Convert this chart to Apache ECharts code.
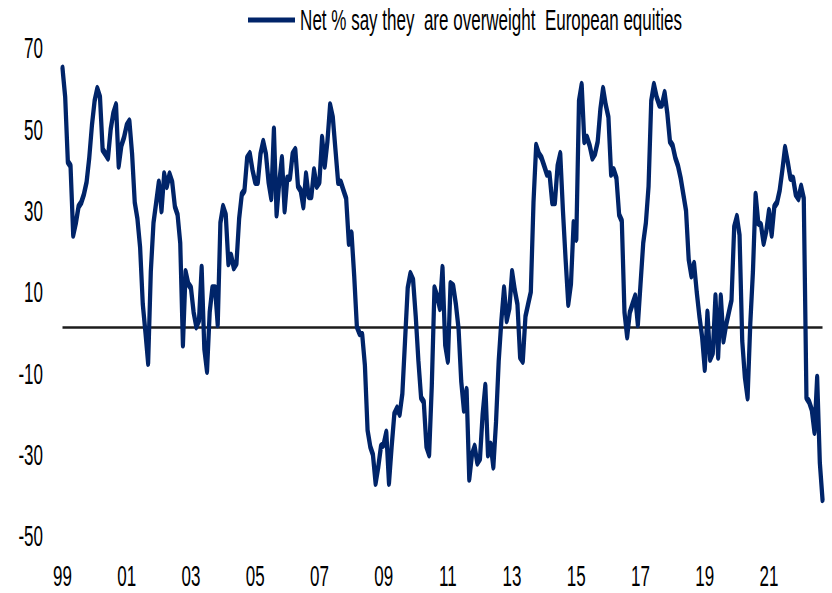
<!DOCTYPE html>
<html>
<head>
<meta charset="utf-8">
<script src="https://cdn.jsdelivr.net/npm/echarts@6/dist/echarts.min.js"></script>
<style>
html, body { margin: 0; padding: 0; overflow: hidden; background: #fff; }
#wrap { width: 832px; height: 593px; overflow: hidden; position: relative; }
#chart { width: 1467px; height: 593px; transform: scaleX(0.56715); transform-origin: 0 0; }
</style>
</head>
<body>
<div id="wrap"><div id="chart"></div></div>
<script>
// Net % of fund managers saying they are overweight European equities (monthly)
const v1999_2002 = [
  65, 58, 42, 41, 24, 27, 31, 32, 34, 37, 43, 51,
  57, 60, 58, 45, 44, 43, 50, 54, 56, 41, 46, 48,
  51, 52, 44, 32, 28, 21, 7, 0, -7.5, 15, 27, 32,
  37, 30, 39, 36, 39, 37, 31, 29, 22, -3, 15, 12
];
const v2003_2006 = [
  11, 5, 1.5, 3, 16, -4, -9.5, 5, 11, 11, 2, 27,
  31, 29, 17, 19, 16, 17, 28, 34, 35, 43, 44, 40,
  37, 37, 44, 47, 44, 37, 33, 50, 29, 37, 43, 30,
  38, 38, 44, 45, 36, 35, 31, 39, 33.5, 33.5, 40, 36
];
const v2007_2010 = [
  37, 48, 41, 47, 56, 53, 45, 37, 37, 35, 33, 22,
  24.5, 14, 1.5, -0.2, -0.5, -8, -24, -28, -30, -37, -33, -28,
  -27.5, -24.5, -37, -28, -20, -18.6, -20, -15, -2, 11, 14.5, 13,
  4, -7, -16, -17, -28, -30, -13, 11, 9, 6, 16, -3
];
const v2011_2014 = [
  -7, 12, 11.5, 7, 1, -12, -19, -14, -36, -30, -28, -32,
  -31, -20, -13, -30, -27.5, -33, -22, -7, 3, 11, 3, 6,
  15, 10.5, 7, -6, -7, 4, 7, 10, 32, 46, 44, 43,
  41, 39, 39, 32, 32, 41, 44, 30, 18, 7, 12, 27
];
const v2015_2018 = [
  23, 57, 61, 47, 48, 46, 43, 44, 47, 55, 60, 56,
  53, 39, 40, 38, 29, 27.5, 5, -1, 5, 7, 9, 2,
  12, 22, 27, 36, 57, 61, 58, 56, 56, 59, 54, 47,
  46, 43, 41, 38, 34, 30, 18, 14, 17, 10, 4, -1
];
const v2019_2022 = [
  -9, 5, -6.5, -5, 9, -6, 9, -2, 2, 5, 8, 26,
  28.5, 24, -2, -11, -16, 2, 15, 34, 27, 26.5, 22, 25,
  30, 24, 31, 32, 35, 40, 45.5, 42, 38, 38, 34, 33,
  36, 33, -16, -17, -19, -24.5, -11, -32, -41
];
const values = [].concat(v1999_2002, v2003_2006, v2007_2010, v2011_2014, v2015_2018, v2019_2022);

const startYear = 1999;
const categories = values.map((_, i) => {
  const y = startYear + Math.floor(i / 12);
  const m = (i % 12) + 1;
  return y + '-' + (m < 10 ? '0' + m : '' + m);
});
const tickLabels = ['99', '01', '03', '05', '07', '09', '11', '13', '15', '17', '19', '21'];
const yTicks = { min: -50, max: 70, step: 20 };
const refLevel = 1.3;
const seriesName = 'Net % say they  are overweight  European equities';

const S = 0.56715; // horizontal squeeze of the picture
const FONT = '"Liberation Sans", Arial, sans-serif';

const chart = echarts.init(document.getElementById('chart'), null, { renderer: 'svg' });
chart.setOption({
  animation: false,
  backgroundColor: '#ffffff',
  textStyle: { fontFamily: FONT },
  legend: {
    show: true,
    left: 248 / S,
    top: 5,
    padding: 0,
    icon: 'rect',
    itemWidth: 47 / S,
    itemHeight: 5,
    textStyle: { fontSize: 30, color: '#000', fontFamily: FONT, padding: [0, 0, 0, 4] },
    data: [seriesName]
  },
  grid: { left: 62.5 / S, right: 9.5 / S, top: 48, bottom: 57, containLabel: false },
  xAxis: {
    type: 'category',
    data: categories,
    boundaryGap: false,
    axisLine: { show: false },
    axisTick: { show: false },
    splitLine: { show: false },
    axisLabel: {
      interval: (idx, val) => val.endsWith('-01') && tickLabels.indexOf(val.slice(2, 4)) >= 0,
      formatter: (val) => val.slice(2, 4),
      fontSize: 30,
      color: '#000',
      margin: 25,
      fontFamily: FONT
    }
  },
  yAxis: {
    type: 'value',
    min: yTicks.min,
    max: yTicks.max,
    interval: yTicks.step,
    axisLine: { show: false },
    axisTick: { show: false },
    splitLine: { show: false },
    axisLabel: { fontSize: 30, color: '#000', margin: 19.5 / S, fontFamily: FONT }
  },
  series: [{
    name: seriesName,
    type: 'line',
    data: values,
    symbol: 'none',
    smooth: false,
    color: '#002469',
    lineStyle: { color: '#002469', width: 7.5, join: 'round', cap: 'round' },
    z: 3,
    markLine: {
      silent: true,
      symbol: 'none',
      label: { show: false },
      lineStyle: { color: '#1c1c1c', width: 2.5, type: 'solid' },
      z: 2,
      data: [{ yAxis: refLevel }]
    }
  }]
});
</script>
</body>
</html>
